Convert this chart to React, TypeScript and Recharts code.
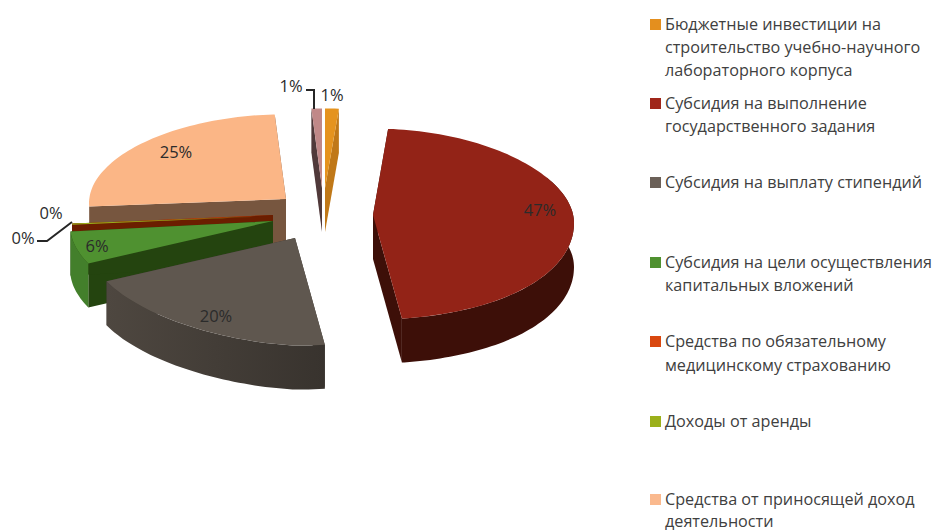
import React from "react";
import { Legend, Pie, PieChart } from "recharts";

const sliceNames = ["budget", "task", "stipend", "capital", "oms", "rent", "income", "other"];
const sliceValues = [1.2, 46.5, 20.49, 5.7, 0.3, 0.2, 24.7, 0.91];

const legendLabels = [
  ["Бюджетные инвестиции на", "строительство учебно-научного", "лабораторного корпуса"],
  ["Субсидия на выполнение", "государственного задания"],
  ["Субсидия на выплату стипендий"],
  ["Субсидия на цели осуществления", "капитальных вложений"],
  ["Средства по обязательному", "медицинскому страхованию"],
  ["Доходы от аренды"],
  ["Средства от приносящей доход", "деятельности"],
];
const legendColors = ["#E48F1E", "#A0261A", "#6B6058", "#4F9130", "#D9480F", "#9BB01B", "#FAB98E"];

const faceColors = ["#E5931E", "#932317", "#5F574F", "#4F9130", "#D14B0C", "#9BB01B", "#FBB686", "#C08888"];
const rimColors = ["#C07818", "#3D0F08", "url(#stipendRim)", "#437F2B", "#6B1E00", "#6B1E00", "#77563F", "#50393A"];
const cutColors = ["#C07818", "#3D0F08", "#3A352F", "#24440F", "#6B1E00", "#6B1E00", "#77563F", "#50393A"];

// how far each slice is pulled out of the pie (3D explosion), and perspective scale
const explode = [[20, -17], [68, 10], [-10, 33], [-32, 16], [-32, 10], [-32, 11], [-19, -6], [17, -17]];
const radiusScale = [0.92, 1, 1.03, 1.01, 1, 1, 0.98, 0.92];
const drawOrder = ["income", "other", "budget", "oms", "rent", "capital", "stipend", "task"];

// label placement relative to the chart centre, with optional leader lines
const labelSpots = [[27, -111], [235, 4], [-89, 110], [-208, 40], [-254, 7], [-282, 32], [-129, -54], [-14, -120]];
const leaders: Record<string, number[][]> = {
  rent: [[-268, 36], [-258, 36], [-233, 17]],
  other: [[1, -115], [9, -115], [9, -96]],
};

const CX = 305;
const CY = 205;
const DEPTH = 44;
const RAD = Math.PI / 180;

const arcPoint = (tx: number, ty: number, r: number, clock: number) => {
  const s = Math.sin(clock * RAD);
  const c = Math.cos(clock * RAD);
  const squash = c > 0 ? 0.43 : 0.52 - 0.06 * Math.max(0, -s);
  return [tx + r * s, ty - r * c * squash + (s > 0 ? 8 : 4) * s * s];
};

const arcPoints = (tx: number, ty: number, r: number, from: number, to: number) => {
  const pts: number[][] = [];
  for (let a = from; a < to; a += 1.5) pts.push(arcPoint(tx, ty, r, a));
  pts.push(arcPoint(tx, ty, r, to));
  return pts;
};

const toPath = (pts: number[][]) =>
  "M" + pts.map((p) => `${p[0].toFixed(1)},${p[1].toFixed(1)}`).join("L") + "Z";

const down = (pts: number[][]) => pts.map((p) => [p[0], p[1] + DEPTH]);

const makeSlice = (only: string) => (props: any) => {
  const i = sliceNames.indexOf(props.name);
  if (props.name !== only) return <g />;
  const from = 90 - props.startAngle;
  const to = 90 - props.endAngle;
  const r = props.outerRadius * radiusScale[i];
  const tx = props.cx + explode[i][0];
  const ty = props.cy + explode[i][1];
  const tip = [tx, ty];
  const a = arcPoint(tx, ty, r, from);
  const b = arcPoint(tx, ty, r, to);
  const rimFrom = Math.max(from, 60);
  const rimTo = Math.min(to, 272);
  const rim = rimTo > rimFrom ? arcPoints(tx, ty, r, rimFrom, rimTo) : [];
  return (
    <g>
      <path d={toPath([tip, a, ...down([a]), ...down([tip])])} fill={cutColors[i]} />
      <path d={toPath([tip, b, ...down([b]), ...down([tip])])} fill={cutColors[i]} />
      {rim.length > 0 && <path d={toPath([...rim, ...down(rim).reverse()])} fill={rimColors[i]} />}
      <path d={toPath([tip, ...arcPoints(tx, ty, r, from, to)])} fill={faceColors[i]} />
    </g>
  );
};

const renderLabel = (props: any) => {
  const i = sliceNames.indexOf(props.name);
  const [dx, dy] = labelSpots[i];
  const line = leaders[props.name];
  return (
    <g key={props.name}>
      {line && (
        <polyline
          points={line.map((p) => `${CX + p[0]},${CY + p[1]}`).join(" ")}
          fill="none"
          stroke="#262626"
          strokeWidth={2}
        />
      )}
      <text
        x={CX + dx}
        y={CY + dy}
        textAnchor="middle"
        dominantBaseline="central"
        fontFamily="Open Sans"
        fontSize={16.5}
        fill="#2b2b2b"
      >
        {Math.round(props.value)}%
      </text>
    </g>
  );
};

const LegendBox = () => (
  <div style={{ position: "relative", width: 288, height: 532, fontFamily: "Open Sans", fontSize: 16.2, color: "#404040" }}>
    {legendLabels.map((lines, i) => {
      const last = i === legendLabels.length - 1;
      return (
        <div key={i} style={{ position: "absolute", left: 0, top: last ? 489 : 12.5 + i * 79.4 }}>
          <span style={{ position: "absolute", left: 0, top: last ? 5 : 6, width: 11, height: 11, background: legendColors[i] }} />
          <div style={{ marginLeft: 15, lineHeight: last ? "21.5px" : "23.4px", whiteSpace: "nowrap" }}>
            {lines.map((t) => (
              <div key={t}>{t}</div>
            ))}
          </div>
        </div>
      );
    })}
  </div>
);

const chartData = sliceNames.map((name, i) => ({ name, value: sliceValues[i] }));

export default function App() {
  return (
    <div style={{ position: "absolute", left: 0, top: 0, width: 938, height: 532, background: "#fff", overflow: "hidden" }}>
      <PieChart width={938} height={532} margin={{ top: 0, right: 0, bottom: 0, left: 0 }}>
        <defs>
          <linearGradient id="stipendRim" x1="0" y1="0" x2="1" y2="0">
            <stop offset="0%" stopColor="#4E4740" />
            <stop offset="100%" stopColor="#38332E" />
          </linearGradient>
        </defs>
        {drawOrder.map((name, k) => (
          <Pie
            key={name}
            data={chartData}
            dataKey="value"
            nameKey="name"
            cx={CX}
            cy={CY}
            outerRadius={201}
            startAngle={90}
            endAngle={-270}
            stroke="none"
            shape={makeSlice(name)}
            label={k === drawOrder.length - 1 ? renderLabel : false}
            labelLine={false}
            isAnimationActive={false}
          />
        ))}
        <Legend
          content={<LegendBox />}
          wrapperStyle={{ position: "absolute", left: 650, top: 0, width: 288, height: 532 }}
        />
      </PieChart>
    </div>
  );
}
